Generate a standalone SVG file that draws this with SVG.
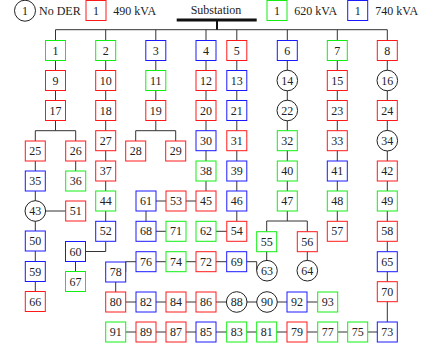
<svg xmlns="http://www.w3.org/2000/svg" width="422" height="349" viewBox="0 0 422 349">
  <style>
    text { font-family: "Liberation Serif", "DejaVu Serif", serif; font-size: 12px; fill: #222; }
    .n text { text-anchor: middle; }
    .n rect, .n circle { fill: #fff; stroke-width: 1; }
    .r rect { stroke: #ff1a1a; }
    .g rect { stroke: #12ee12; }
    .b rect { stroke: #1a1aff; }
    .c circle { stroke: #222; }
    #links path { fill: none; stroke: #333; stroke-width: 1; }
    #links .bar { stroke: #111; stroke-width: 3; }
    #links .stem { stroke: #111; stroke-width: 2; }
  </style>

  <!-- legend -->
  <g id="legend">
    <g class="n c" transform="translate(25,10.7)"><circle r="10.5"/><text y="4">1</text></g>
    <text x="39" y="15">No DER</text>
    <g class="n r" transform="translate(96,10.5)"><rect x="-10" y="-10" width="20" height="20"/><text y="4">1</text></g>
    <text x="113.3" y="15">490 kVA</text>
    <g class="n g" transform="translate(277,10.5)"><rect x="-10" y="-10" width="20" height="20"/><text y="4">1</text></g>
    <text x="294.3" y="15">620 kVA</text>
    <g class="n b" transform="translate(357.7,10.5)"><rect x="-10" y="-10" width="20" height="20"/><text y="4">1</text></g>
    <text x="375.3" y="15">740 kVA</text>
    <text x="216" y="14" text-anchor="middle">Substation</text>
  </g>

  <!-- feeder lines -->
  <g id="links">
    <path class="bar" d="M176.7 20 H256.7"/>
    <path class="stem" d="M217 20 V30"/>
    <path d="M55.5 29.7 H387.3"/>
    <!-- feeder 1 -->
    <path d="M55.5 29.7 V130.7 M35.3 130.7 H75.7 M35.3 130.7 V301.5 M75.7 130.7 V181 M35.3 211 H75.7"/>
    <!-- feeder 2 -->
    <path d="M105.7 29.7 V231.3 M85.5 251.5 H105.7 V241.3 M75.5 261.5 V271.5"/>
    <!-- feeder 3 -->
    <path d="M155.8 29.7 V130.7 M135.7 130.7 H175.7 M135.7 130.7 V151 M175.7 130.7 V151"/>
    <!-- feeder 4 -->
    <path d="M206 29.7 V201 H146 V231.3 H176"/>
    <!-- feeder 5 -->
    <path d="M236.8 29.7 V231.3 H206"/>
    <!-- feeder 6 -->
    <path d="M287.3 29.7 V221 M266.7 221 H307.3 M266.7 221 V270.7 M307.3 221 V270.7"/>
    <!-- feeder 7 -->
    <path d="M337.3 29.7 V231.3"/>
    <!-- feeder 8 -->
    <path d="M387.3 29.7 V332"/>
    <!-- lower loops -->
    <path d="M146 261.7 H236.7 M236.7 261.7 H256.7 V270.7"/>
    <path d="M146 261.7 H125.7 V272 M115.7 272 V302"/>
    <path d="M115.7 302 H327.7"/>
    <path d="M115.7 332 H387.3"/>
  </g>

  <!-- feeder 1 nodes -->
  <g id="n1" class="n g" transform="translate(55.5,50.5)"><rect x="-10" y="-10" width="20" height="20"/><text y="4">1</text></g>
  <g id="n9" class="n r" transform="translate(55.5,80.5)"><rect x="-10" y="-10" width="20" height="20"/><text y="4">9</text></g>
  <g id="n17" class="n r" transform="translate(55.5,110.5)"><rect x="-10" y="-10" width="20" height="20"/><text y="4">17</text></g>
  <g id="n25" class="n r" transform="translate(35.3,151)"><rect x="-10" y="-10" width="20" height="20"/><text y="4">25</text></g>
  <g id="n26" class="n r" transform="translate(75.7,151)"><rect x="-10" y="-10" width="20" height="20"/><text y="4">26</text></g>
  <g id="n35" class="n b" transform="translate(35.3,181)"><rect x="-10" y="-10" width="20" height="20"/><text y="4">35</text></g>
  <g id="n36" class="n g" transform="translate(75.7,181)"><rect x="-10" y="-10" width="20" height="20"/><text y="4">36</text></g>
  <g id="n43" class="n c" transform="translate(35.3,211)"><circle r="10.3"/><text y="4">43</text></g>
  <g id="n51" class="n r" transform="translate(75.7,211)"><rect x="-10" y="-10" width="20" height="20"/><text y="4">51</text></g>
  <g id="n50" class="n b" transform="translate(35.3,241)"><rect x="-10" y="-10" width="20" height="20"/><text y="4">50</text></g>
  <g id="n59" class="n b" transform="translate(35.3,271.5)"><rect x="-10" y="-10" width="20" height="20"/><text y="4">59</text></g>
  <g id="n66" class="n r" transform="translate(35.3,301.5)"><rect x="-10" y="-10" width="20" height="20"/><text y="4">66</text></g>

  <!-- feeder 2 nodes -->
  <g id="n2" class="n g" transform="translate(105.7,50.5)"><rect x="-10" y="-10" width="20" height="20"/><text y="4">2</text></g>
  <g id="n10" class="n r" transform="translate(105.7,80.5)"><rect x="-10" y="-10" width="20" height="20"/><text y="4">10</text></g>
  <g id="n18" class="n r" transform="translate(105.7,110.5)"><rect x="-10" y="-10" width="20" height="20"/><text y="4">18</text></g>
  <g id="n27" class="n r" transform="translate(105.7,140.7)"><rect x="-10" y="-10" width="20" height="20"/><text y="4">27</text></g>
  <g id="n37" class="n r" transform="translate(105.7,171)"><rect x="-10" y="-10" width="20" height="20"/><text y="4">37</text></g>
  <g id="n44" class="n g" transform="translate(105.7,201)"><rect x="-10" y="-10" width="20" height="20"/><text y="4">44</text></g>
  <g id="n52" class="n b" transform="translate(105.7,231.3)"><rect x="-10" y="-10" width="20" height="20"/><text y="4">52</text></g>
  <g id="n60" class="n b" transform="translate(75.5,251.5)"><rect x="-10" y="-10" width="20" height="20" style="stroke:#1a1aff"/><text y="4">60</text></g>
  <g id="n67" class="n g" transform="translate(75.5,281.5)"><rect x="-10" y="-10" width="20" height="20" style="stroke:#12ee12"/><text y="4">67</text></g>

  <!-- feeder 3 nodes -->
  <g id="n3" class="n b" transform="translate(155.8,50.5)"><rect x="-10" y="-10" width="20" height="20"/><text y="4">3</text></g>
  <g id="n11" class="n g" transform="translate(155.8,80.5)"><rect x="-10" y="-10" width="20" height="20"/><text y="4">11</text></g>
  <g id="n19" class="n r" transform="translate(155.8,110.5)"><rect x="-10" y="-10" width="20" height="20"/><text y="4">19</text></g>
  <g id="n28" class="n r" transform="translate(135.7,151)"><rect x="-10" y="-10" width="20" height="20"/><text y="4">28</text></g>
  <g id="n29" class="n r" transform="translate(175.7,151)"><rect x="-10" y="-10" width="20" height="20"/><text y="4">29</text></g>

  <!-- feeder 4 nodes -->
  <g id="n4" class="n b" transform="translate(206,50.5)"><rect x="-10" y="-10" width="20" height="20"/><text y="4">4</text></g>
  <g id="n12" class="n r" transform="translate(206,80.5)"><rect x="-10" y="-10" width="20" height="20"/><text y="4">12</text></g>
  <g id="n20" class="n r" transform="translate(206,110.5)"><rect x="-10" y="-10" width="20" height="20"/><text y="4">20</text></g>
  <g id="n30" class="n b" transform="translate(206,140.7)"><rect x="-10" y="-10" width="20" height="20"/><text y="4">30</text></g>
  <g id="n38" class="n g" transform="translate(206,171)"><rect x="-10" y="-10" width="20" height="20"/><text y="4">38</text></g>
  <g id="n45" class="n r" transform="translate(206,201)"><rect x="-10" y="-10" width="20" height="20"/><text y="4">45</text></g>
  <g id="n53" class="n r" transform="translate(176,201)"><rect x="-10" y="-10" width="20" height="20"/><text y="4">53</text></g>
  <g id="n61" class="n b" transform="translate(146,201)"><rect x="-10" y="-10" width="20" height="20"/><text y="4">61</text></g>
  <g id="n68" class="n b" transform="translate(146,231.3)"><rect x="-10" y="-10" width="20" height="20"/><text y="4">68</text></g>
  <g id="n71" class="n g" transform="translate(176,231.3)"><rect x="-10" y="-10" width="20" height="20"/><text y="4">71</text></g>

  <!-- feeder 5 nodes -->
  <g id="n5" class="n r" transform="translate(236.8,50.5)"><rect x="-10" y="-10" width="20" height="20"/><text y="4">5</text></g>
  <g id="n13" class="n b" transform="translate(236.8,80.5)"><rect x="-10" y="-10" width="20" height="20"/><text y="4">13</text></g>
  <g id="n21" class="n b" transform="translate(236.8,110.5)"><rect x="-10" y="-10" width="20" height="20"/><text y="4">21</text></g>
  <g id="n31" class="n r" transform="translate(236.8,140.7)"><rect x="-10" y="-10" width="20" height="20"/><text y="4">31</text></g>
  <g id="n39" class="n b" transform="translate(236.8,171)"><rect x="-10" y="-10" width="20" height="20"/><text y="4">39</text></g>
  <g id="n46" class="n b" transform="translate(236.8,201)"><rect x="-10" y="-10" width="20" height="20"/><text y="4">46</text></g>
  <g id="n54" class="n r" transform="translate(236.8,231.3)"><rect x="-10" y="-10" width="20" height="20"/><text y="4">54</text></g>
  <g id="n62" class="n g" transform="translate(206,231.3)"><rect x="-10" y="-10" width="20" height="20"/><text y="4">62</text></g>

  <!-- feeder 6 nodes -->
  <g id="n6" class="n b" transform="translate(287.3,50.5)"><rect x="-10" y="-10" width="20" height="20"/><text y="4">6</text></g>
  <g id="n14" class="n c" transform="translate(287.3,80.5)"><circle r="10.3"/><text y="4">14</text></g>
  <g id="n22" class="n c" transform="translate(287.3,110.5)"><circle r="10.3"/><text y="4">22</text></g>
  <g id="n32" class="n g" transform="translate(287.3,140.7)"><rect x="-10" y="-10" width="20" height="20"/><text y="4">32</text></g>
  <g id="n40" class="n g" transform="translate(287.3,171)"><rect x="-10" y="-10" width="20" height="20"/><text y="4">40</text></g>
  <g id="n47" class="n g" transform="translate(287.3,201)"><rect x="-10" y="-10" width="20" height="20"/><text y="4">47</text></g>
  <g id="n55" class="n g" transform="translate(266.7,241.7)"><rect x="-10" y="-10" width="20" height="20"/><text y="4">55</text></g>
  <g id="n56" class="n r" transform="translate(307.3,241.7)"><rect x="-10" y="-10" width="20" height="20"/><text y="4">56</text></g>
  <g id="n63" class="n c" transform="translate(267,270.7)"><circle r="10.3"/><text y="4">63</text></g>
  <g id="n64" class="n c" transform="translate(307.3,270.7)"><circle r="10.3"/><text y="4">64</text></g>

  <!-- feeder 7 nodes -->
  <g id="n7" class="n g" transform="translate(337.3,50.5)"><rect x="-10" y="-10" width="20" height="20"/><text y="4">7</text></g>
  <g id="n15" class="n r" transform="translate(337.3,80.5)"><rect x="-10" y="-10" width="20" height="20"/><text y="4">15</text></g>
  <g id="n23" class="n r" transform="translate(337.3,110.5)"><rect x="-10" y="-10" width="20" height="20"/><text y="4">23</text></g>
  <g id="n33" class="n r" transform="translate(337.3,140.7)"><rect x="-10" y="-10" width="20" height="20"/><text y="4">33</text></g>
  <g id="n41" class="n b" transform="translate(337.3,171)"><rect x="-10" y="-10" width="20" height="20"/><text y="4">41</text></g>
  <g id="n48" class="n g" transform="translate(337.3,201)"><rect x="-10" y="-10" width="20" height="20"/><text y="4">48</text></g>
  <g id="n57" class="n r" transform="translate(337.3,231.3)"><rect x="-10" y="-10" width="20" height="20"/><text y="4">57</text></g>

  <!-- feeder 8 nodes -->
  <g id="n8" class="n r" transform="translate(387.3,50.5)"><rect x="-10" y="-10" width="20" height="20"/><text y="4">8</text></g>
  <g id="n16" class="n c" transform="translate(387.3,80.5)"><circle r="10.3"/><text y="4">16</text></g>
  <g id="n24" class="n r" transform="translate(387.3,110.5)"><rect x="-10" y="-10" width="20" height="20"/><text y="4">24</text></g>
  <g id="n34" class="n c" transform="translate(387.3,140.7)"><circle r="10.3"/><text y="4">34</text></g>
  <g id="n42" class="n r" transform="translate(387.3,171)"><rect x="-10" y="-10" width="20" height="20"/><text y="4">42</text></g>
  <g id="n49" class="n g" transform="translate(387.3,201)"><rect x="-10" y="-10" width="20" height="20"/><text y="4">49</text></g>
  <g id="n58" class="n r" transform="translate(387.3,231.3)"><rect x="-10" y="-10" width="20" height="20"/><text y="4">58</text></g>
  <g id="n65" class="n b" transform="translate(387.3,261.7)"><rect x="-10" y="-10" width="20" height="20"/><text y="4">65</text></g>
  <g id="n70" class="n r" transform="translate(387.3,291.7)"><rect x="-10" y="-10" width="20" height="20"/><text y="4">70</text></g>
  <g id="n73" class="n b" transform="translate(387.3,332)"><rect x="-10" y="-10" width="20" height="20"/><text y="4">73</text></g>

  <!-- row of 76 .. 69 -->
  <g id="n76" class="n b" transform="translate(146,261.7)"><rect x="-10" y="-10" width="20" height="20"/><text y="4">76</text></g>
  <g id="n74" class="n g" transform="translate(176,261.7)"><rect x="-10" y="-10" width="20" height="20"/><text y="4">74</text></g>
  <g id="n72" class="n r" transform="translate(206,261.7)"><rect x="-10" y="-10" width="20" height="20"/><text y="4">72</text></g>
  <g id="n69" class="n b" transform="translate(236.7,261.7)"><rect x="-10" y="-10" width="20" height="20"/><text y="4">69</text></g>
  <g id="n78" class="n b" transform="translate(115.7,272)"><rect x="-10" y="-10" width="20" height="20"/><text y="4">78</text></g>

  <!-- row of 80 .. 93 -->
  <g id="n80" class="n r" transform="translate(115.7,302)"><rect x="-10" y="-10" width="20" height="20"/><text y="4">80</text></g>
  <g id="n82" class="n b" transform="translate(146,302)"><rect x="-10" y="-10" width="20" height="20"/><text y="4">82</text></g>
  <g id="n84" class="n r" transform="translate(176,302)"><rect x="-10" y="-10" width="20" height="20"/><text y="4">84</text></g>
  <g id="n86" class="n r" transform="translate(206,302)"><rect x="-10" y="-10" width="20" height="20"/><text y="4">86</text></g>
  <g id="n88" class="n c" transform="translate(236.7,302)"><circle r="10.3"/><text y="4">88</text></g>
  <g id="n90" class="n c" transform="translate(267,302)"><circle r="10.3"/><text y="4">90</text></g>
  <g id="n92" class="n b" transform="translate(297,302)"><rect x="-10" y="-10" width="20" height="20"/><text y="4">92</text></g>
  <g id="n93" class="n g" transform="translate(327.7,302)"><rect x="-10" y="-10" width="20" height="20"/><text y="4">93</text></g>

  <!-- row of 91 .. 75 -->
  <g id="n91" class="n g" transform="translate(115.7,332)"><rect x="-10" y="-10" width="20" height="20"/><text y="4">91</text></g>
  <g id="n89" class="n r" transform="translate(146,332)"><rect x="-10" y="-10" width="20" height="20"/><text y="4">89</text></g>
  <g id="n87" class="n r" transform="translate(176,332)"><rect x="-10" y="-10" width="20" height="20"/><text y="4">87</text></g>
  <g id="n85" class="n b" transform="translate(206,332)"><rect x="-10" y="-10" width="20" height="20"/><text y="4">85</text></g>
  <g id="n83" class="n g" transform="translate(236.7,332)"><rect x="-10" y="-10" width="20" height="20"/><text y="4">83</text></g>
  <g id="n81" class="n g" transform="translate(266.7,332)"><rect x="-10" y="-10" width="20" height="20"/><text y="4">81</text></g>
  <g id="n79" class="n r" transform="translate(297,332)"><rect x="-10" y="-10" width="20" height="20"/><text y="4">79</text></g>
  <g id="n77" class="n g" transform="translate(327.7,332)"><rect x="-10" y="-10" width="20" height="20"/><text y="4">77</text></g>
  <g id="n75" class="n g" transform="translate(357.7,332)"><rect x="-10" y="-10" width="20" height="20"/><text y="4">75</text></g>
</svg>
